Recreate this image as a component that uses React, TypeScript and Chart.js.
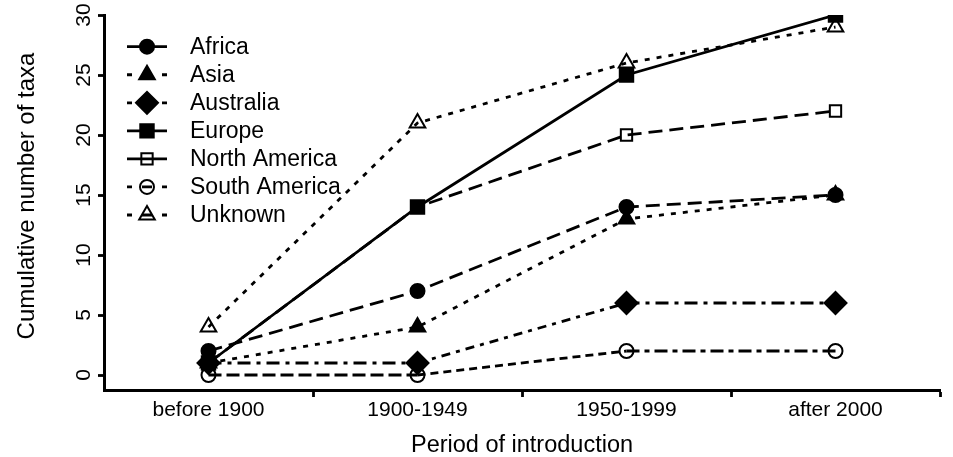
import React, { useEffect, useRef } from 'react';
import { Chart, registerables } from 'chart.js';
import { drawPoint } from 'chart.js/helpers';

Chart.register(...registerables);

const PERIODS = ['before 1900', '1900-1949', '1950-1999', 'after 2000'];
const Y_TICKS = [0, 5, 10, 15, 20, 25, 30];
const SERIES_NAMES = ['Africa', 'Asia', 'Australia', 'Europe', 'North America', 'South America', 'Unknown'];
const AFRICA = [2, 7, 14, 15];
const ASIA = [1, 4, 13, 15];
const AUSTRALIA = [1, 1, 6, 6];
const EUROPE = [1, 14, 25, 30];
const NORTH_AMERICA = [1, 14, 20, 22];
const SOUTH_AMERICA = [0, 0, 2, 2];
const UNKNOWN = [4, 21, 26, 29];
const Y_TITLE = 'Cumulative number of taxa';
const X_TITLE = 'Period of introduction';

const SERIES_VALUES = [AFRICA, ASIA, AUSTRALIA, EUROPE, NORTH_AMERICA, SOUTH_AMERICA, UNKNOWN];

const FONT = '"Liberation Sans", Arial, sans-serif';
const LEG_DASH = [5, 10, 10, 10];
const LINE_W = 2.8;

type Sty = { style: string; radius: number; fill: boolean; seg: number[][]; legendDash: number[] };
const STYLES: Sty[] = [
  { style: 'circle', radius: 7, fill: true, seg: [[14, 7], [14, 7], [14, 7]], legendDash: [] },
  { style: 'triangle', radius: 9, fill: true, seg: [[5, 7], [5, 7], [5, 7]], legendDash: LEG_DASH },
  { style: 'rectRot', radius: 11, fill: true, seg: [[13, 6, 4, 6], [9, 6, 4, 6], [13, 6, 4, 6]], legendDash: LEG_DASH },
  { style: 'rect', radius: 9.5, fill: true, seg: [[], [], []], legendDash: [] },
  { style: 'rect', radius: 8, fill: false, seg: [[14, 7], [14, 7], [14, 7]], legendDash: [] },
  { style: 'circle', radius: 7, fill: false, seg: [[13, 5], [8, 5], [13, 5, 5, 5]], legendDash: LEG_DASH },
  { style: 'triangle', radius: 9, fill: false, seg: [[5, 7], [5, 7], [5, 7]], legendDash: LEG_DASH },
];

const textPlugin = {
  id: 'customText',
  afterDraw(chart: any) {
    const ctx = chart.ctx as CanvasRenderingContext2D;
    const yScale = chart.scales.y;
    const area = chart.chartArea;
    ctx.save();
    ctx.fillStyle = '#000';
    // y tick labels (rotated)
    ctx.font = `21px ${FONT}`;
    ctx.textAlign = 'center';
    ctx.textBaseline = 'alphabetic';
    Y_TICKS.forEach((v) => {
      const py = yScale.getPixelForValue(v);
      ctx.save();
      ctx.translate(90, py);
      ctx.rotate(-Math.PI / 2);
      ctx.fillText(String(v), 0, 0);
      ctx.restore();
    });
    // y title
    ctx.font = `24px ${FONT}`;
    ctx.save();
    ctx.translate(34, 196);
    ctx.rotate(-Math.PI / 2);
    ctx.fillText(Y_TITLE, 0, 0);
    ctx.restore();
    // x title
    ctx.font = `23.5px ${FONT}`;
    ctx.fillText(X_TITLE, (area.left + area.right) / 2, 452);

    // legend
    SERIES_NAMES.forEach((name, i) => {
      const y = 46.7 + 28.05 * i;
      const s = STYLES[i];
      ctx.beginPath();
      ctx.setLineDash(s.legendDash);
      ctx.lineWidth = LINE_W;
      ctx.strokeStyle = '#000';
      ctx.moveTo(127, y);
      ctx.lineTo(167, y);
      ctx.stroke();
      ctx.setLineDash([]);
      ctx.fillStyle = s.fill ? '#000' : 'rgba(0,0,0,0)';
      ctx.strokeStyle = '#000';
      ctx.lineWidth = 2;
      drawPoint(ctx, { pointStyle: s.style as any, radius: s.radius, borderWidth: 2, rotation: 0 }, 147, y);
      ctx.fillStyle = '#000';
      ctx.font = `23px ${FONT}`;
      ctx.textAlign = 'left';
      ctx.textBaseline = 'middle';
      ctx.fillText(name, 190, y + 1);
    });
    ctx.restore();
  },
};

export default function App() {
  const ref = useRef<HTMLCanvasElement>(null);
  useEffect(() => {
    const datasets = SERIES_NAMES.map((name, i) => {
      const s = STYLES[i];
      return {
        label: name,
        data: SERIES_VALUES[i],
        borderColor: '#000',
        borderWidth: LINE_W,
        backgroundColor: '#000',
        pointStyle: s.style,
        pointRadius: s.radius,
        pointBorderWidth: 2,
        pointBorderColor: '#000',
        pointBackgroundColor: s.fill ? '#000' : 'rgba(0,0,0,0)',
        fill: false,
        tension: 0,
        segment: {
          borderDash: (c: any) => s.seg[c.p0DataIndex] || [],
        },
      };
    });
    const chart = new Chart(ref.current!, {
      type: 'line',
      data: { labels: PERIODS, datasets: datasets as any },
      options: {
        animation: false,
        responsive: false,
        events: [],
        layout: { padding: { top: 15, right: 7, left: 0, bottom: 0 } },
        plugins: { legend: { display: false }, tooltip: { enabled: false } },
        scales: {
          x: {
            type: 'category',
            offset: true,
            grid: {
              offset: true,
              drawOnChartArea: false,
              drawTicks: true,
              tickLength: 7,
              tickWidth: 2.8,
              tickColor: (c: any) => (c.index === 0 ? 'rgba(0,0,0,0)' : '#000'),
            },
            border: { display: true, color: '#000', width: 3 },
            ticks: { font: { size: 21, family: FONT }, color: '#000', padding: 1, maxRotation: 0, autoSkip: false },
            afterFit: (s: any) => {
              s.height = 67;
            },
          },
          y: {
            type: 'linear',
            min: -1.25,
            max: 30,
            afterBuildTicks: (s: any) => {
              s.ticks = Y_TICKS.map((v) => ({ value: v }));
            },
            ticks: { display: false },
            grid: { drawOnChartArea: false, drawTicks: true, tickLength: 6, tickWidth: 2.8, tickColor: '#000' },
            border: { display: true, color: '#000', width: 3 },
            afterFit: (s: any) => {
              s.width = 104;
            },
          },
        },
      },
      plugins: [textPlugin],
    });
    return () => chart.destroy();
  }, []);
  return (
    <div style={{ position: 'fixed', left: 0, top: 0, width: 953, height: 457, background: '#fff' }}>
      <canvas ref={ref} width={953} height={457} style={{ width: 953, height: 457, display: 'block' }} />
    </div>
  );
}
